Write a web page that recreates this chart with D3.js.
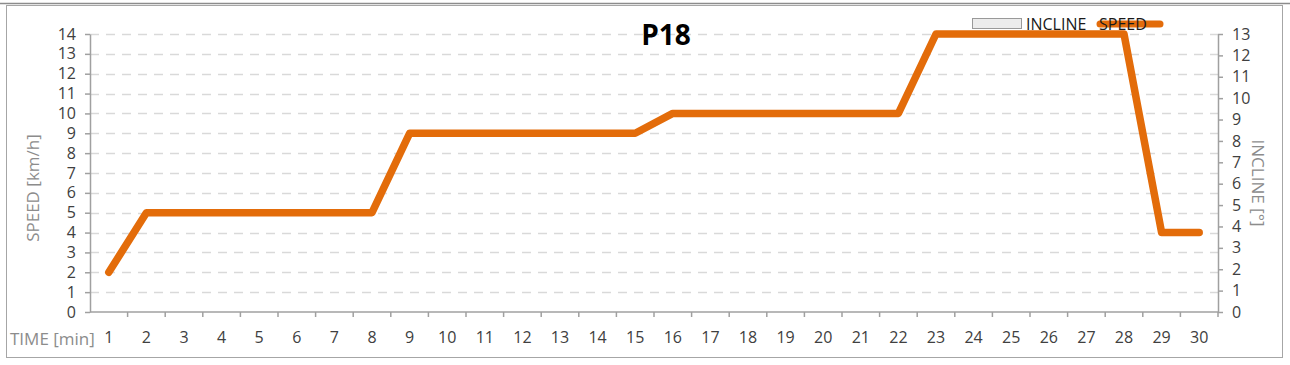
<!DOCTYPE html>
<html>
<head>
<meta charset="utf-8">
<script src="https://cdn.jsdelivr.net/npm/d3@7"></script>
<style>
  body { margin: 0; background: #fff; }
  svg { display: block; font-family: "Open Sans", "Liberation Sans", sans-serif; }
</style>
</head>
<body>
<svg id="chart"></svg>
<script>
// data
var minutes = d3.range(1, 31);
var speed = [2, 5, 5, 5, 5, 5, 5, 5, 9, 9, 9, 9, 9, 9, 9, 10, 10, 10, 10, 10, 10, 10, 14, 14, 14, 14, 14, 14, 4, 4];
var speedTicks = d3.range(0, 15);
var inclineTicks = d3.range(0, 14);

var W = 1290, H = 365;
var plotL = 90, plotR = 1218, plotT = 34, plotB = 312;
var orange = "#e36c0a";

var svg = d3.select("#chart").attr("width", W).attr("height", H);

// frame
svg.append("rect").attr("x", 6.5).attr("y", 5.5).attr("width", 1276).attr("height", 352)
   .attr("fill", "#fff").attr("stroke", "#a6a6a6");
svg.append("line").attr("x1", 0).attr("x2", W).attr("y1", 3.5).attr("y2", 3.5)
   .attr("stroke", "#8c8c8c").attr("stroke-width", 1.5);

var x = d3.scaleBand().domain(minutes).range([plotL, plotR]);
var y = d3.scaleLinear().domain([0, 14]).range([plotB, plotT]);
var y2 = d3.scaleLinear().domain([0, 13]).range([plotB, plotT]);

// gridlines
svg.append("g").selectAll("line").data(speedTicks.filter(function(d){ return d > 0; }))
  .enter().append("line")
  .attr("x1", plotL).attr("x2", plotR)
  .attr("y1", function(d){ return Math.round(y(d)) + 0.5; })
  .attr("y2", function(d){ return Math.round(y(d)) + 0.5; })
  .attr("stroke", "#d9d9d9").attr("stroke-width", 1.5).attr("stroke-dasharray", "9,7");

// axes
function styleAxis(g) {
  g.select(".domain").attr("stroke", "#a0a0a0").attr("stroke-width", 1.5);
  g.selectAll(".tick line").attr("stroke", "#a0a0a0").attr("stroke-width", 1.5);
  g.selectAll(".tick text").attr("fill", "#404040").style("font-size", "16px")
   .style("font-family", "'Open Sans', 'Liberation Sans', sans-serif");
}

svg.append("g").attr("transform", "translate(" + plotL + ",0)")
  .call(d3.axisLeft(y).tickValues(speedTicks).tickSize(5).tickSizeOuter(0).tickPadding(9))
  .call(styleAxis);

svg.append("g").attr("transform", "translate(" + plotR + ",0)")
  .call(d3.axisRight(y2).tickValues(inclineTicks).tickSize(5).tickSizeOuter(0).tickPadding(9))
  .call(styleAxis);

// bottom axis: ticks on band boundaries, labels centred in bands
var xb = svg.append("g").attr("transform", "translate(0," + plotB + ")");
xb.append("line").attr("x1", plotL).attr("x2", plotR).attr("stroke", "#a0a0a0").attr("stroke-width", 1.5);
xb.selectAll(".tk").data(minutes).enter().append("line")
  .attr("x1", function(d){ return x(d) + x.bandwidth(); })
  .attr("x2", function(d){ return x(d) + x.bandwidth(); })
  .attr("y1", 0).attr("y2", 5)
  .attr("stroke", "#a0a0a0").attr("stroke-width", 1.5);
xb.selectAll(".lb").data(minutes).enter().append("text")
  .attr("x", function(d){ return x(d) + x.bandwidth() / 2; })
  .attr("y", 31)
  .attr("text-anchor", "middle")
  .attr("fill", "#404040").style("font-size", "16px")
  .text(function(d){ return d; });

// speed line
var line = d3.line()
  .x(function(d, i){ return x(minutes[i]) + x.bandwidth() / 2; })
  .y(function(d){ return y(d); });

svg.append("path").datum(speed)
  .attr("d", line)
  .attr("fill", "none")
  .attr("stroke", orange)
  .attr("stroke-width", 7.5)
  .attr("stroke-linecap", "round")
  .attr("stroke-linejoin", "round");

// titles
svg.append("text").attr("x", 666).attr("y", 45).attr("text-anchor", "middle")
  .style("font-size", "28px").style("font-weight", "bold").attr("fill", "#000").text("P18");

svg.append("text").attr("transform", "translate(39,188) rotate(-90)")
  .attr("text-anchor", "middle").attr("fill", "#8c8c8c").style("font-size", "17px")
  .text("SPEED [km/h]");

svg.append("text").attr("transform", "translate(1252,183) rotate(90)")
  .attr("text-anchor", "middle").attr("fill", "#8c8c8c").style("font-size", "17px")
  .text("INCLINE [°]");

svg.append("text").attr("x", 10).attr("y", 345)
  .attr("fill", "#8c8c8c").style("font-size", "17px").text("TIME [min]");

// legend
var lg = svg.append("g");
lg.append("rect").attr("x", 972.5).attr("y", 18.5).attr("width", 49).attr("height", 10)
  .attr("fill", "#ececec").attr("stroke", "#999");
lg.append("text").attr("x", 1026).attr("y", 30).attr("fill", "#1a1a1a").style("font-size", "16px").text("INCLINE");
lg.append("line").attr("x1", 1100).attr("x2", 1160).attr("y1", 24).attr("y2", 24)
  .attr("stroke", orange).attr("stroke-width", 7).attr("stroke-linecap", "round");
lg.append("text").attr("x", 1099).attr("y", 30).attr("fill", "#1a1a1a").style("font-size", "16px").text("SPEED");
</script>
</body>
</html>
